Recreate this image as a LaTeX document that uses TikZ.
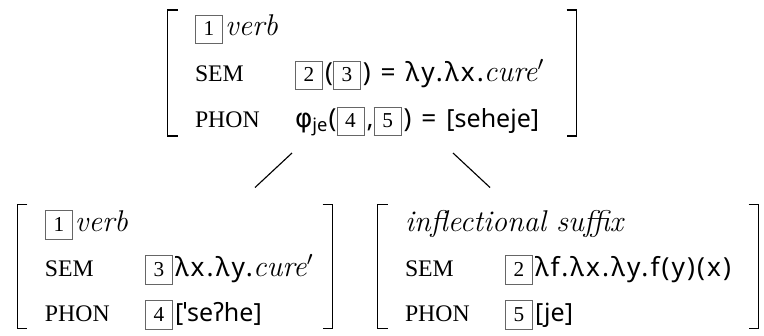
\documentclass[tikz,border=0pt]{standalone}
\usepackage{fontspec}
\newfontfamily\labfont{Liberation Serif}
\newfontfamily\lamfont[LetterSpace=8]{Noto Sans}
\newfontfamily\ipafont{Noto Sans}
\newfontfamily\phifont{DejaVu Sans}
\usetikzlibrary{positioning,calc}

\newcommand{\tagno}[1]{{\setlength{\fboxsep}{0pt}\setlength{\fboxrule}{0.4pt}%
  \fcolorbox{black!60}{white}{\makebox[10.4pt]{\rule[-3pt]{0pt}{11pt}\labfont\fontsize{8.5}{9}\selectfont #1}}}\kern0.8pt}
\newcommand{\lam}[1]{{\lamfont\fontsize{10.5}{13.6}\selectfont #1}}
\newcommand{\ipa}[1]{{\ipafont\fontsize{10}{13.6}\selectfont #1}}
\newcommand{\feat}[1]{{\labfont\fontsize{9.5}{13.6}\selectfont #1}}

\begin{document}
\begin{tikzpicture}[
    x=0.4pt, y=-0.4pt,
    avm/.style={inner xsep=10.8pt, inner ysep=0pt, align=left, font=\fontsize{12}{13.6}\selectfont},
    brk/.style={line width=0.6pt},
    branch/.style={line width=0.45pt}
]
\useasboundingbox (0,0) rectangle (764,335);

\node[avm, text width=141.6pt, text height=46.8pt, text depth=3.2pt] (mother) at (372,73) {%
\begin{tabular}[b]{@{}p{40pt}@{}l@{}}
\multicolumn{2}{@{}l@{}}{\tagno{1}\textit{verb}}\\[4.8pt]
\feat{SEM} & \tagno{2}\lam{(}\tagno{3}\lam{) = λy.λx.}\textit{cure}$'$\\[4.8pt]
\feat{PHON} & {\phifont\fontsize{10.5}{13.6}\selectfont φ\textsubscript{\ipafont je}}\lam{(}\tagno{4}\lam{,}\tagno{5}\lam{) =} \ipa{[seheje]}
\end{tabular}};

\node[avm, text width=104pt, text height=46.4pt, text depth=2.8pt] (stem) at (175,266.5) {%
\begin{tabular}[b]{@{}p{40pt}@{}l@{}}
\multicolumn{2}{@{}l@{}}{\tagno{1}\textit{verb}}\\[4.4pt]
\feat{SEM} & \tagno{3}\lam{λx.λy.}\textit{cure}$'$\\[4.4pt]
\feat{PHON} & \tagno{4}\ipa{[ˈseʔhe]}
\end{tabular}};

\node[avm, text width=130.4pt, text height=46.4pt, text depth=2.8pt] (suffix) at (568,266.5) {%
\begin{tabular}[b]{@{}p{40pt}@{}l@{}}
\multicolumn{2}{@{}l@{}}{\textit{inflectional suffix}}\\[4.4pt]
\feat{SEM} & \tagno{2}\lam{λf.λx.λy.f(y)(x)}\\[4.4pt]
\feat{PHON} & \tagno{5}\ipa{[je]}
\end{tabular}};

% square brackets round each AVM
\foreach \n in {mother,stem,suffix} {
  \draw[brk] ([xshift=4pt]\n.north west) -- (\n.north west) -- (\n.south west) -- ++(4pt,0);
  \draw[brk] ([xshift=-4pt]\n.north east) -- (\n.north east) -- (\n.south east) -- ++(-4pt,0);
}

\draw[branch] ([xshift=-32pt,yshift=-6.8pt]mother.south) -- ([xshift=32pt,yshift=6.8pt]stem.north);
\draw[branch] ([xshift=32.4pt,yshift=-6.8pt]mother.south) -- ([xshift=-31.2pt,yshift=6.8pt]suffix.north);
\end{tikzpicture}
\end{document}
